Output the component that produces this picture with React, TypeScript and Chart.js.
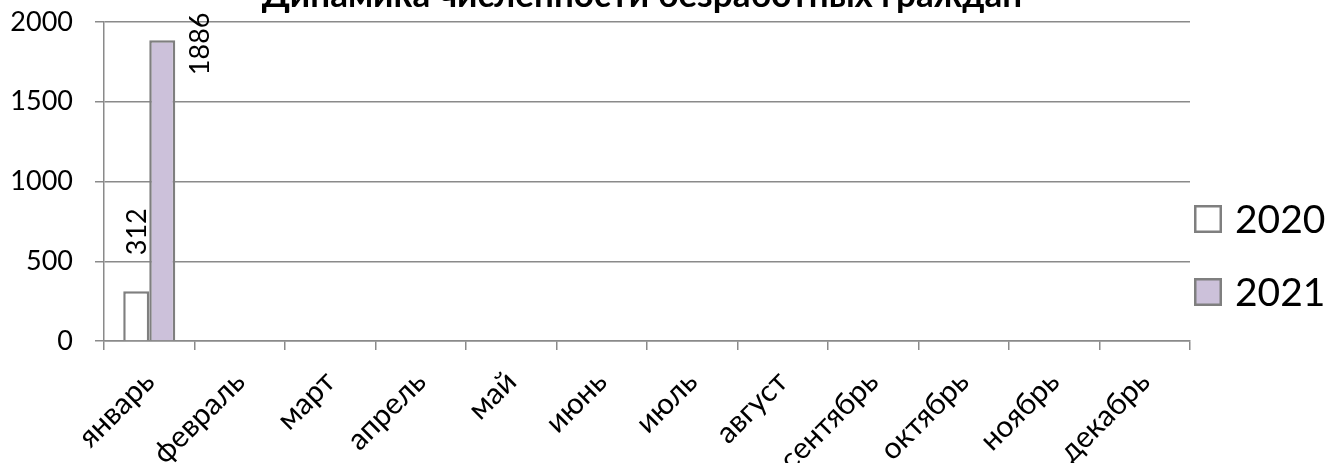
import React, { useEffect, useRef } from "react";
import { Chart, registerables } from "chart.js";

Chart.register(...registerables);

const TITLE = "Динамика численности безработных граждан";
const MONTHS = [
  "январь", "февраль", "март", "апрель", "май", "июнь",
  "июль", "август", "сентябрь", "октябрь", "ноябрь", "декабрь",
];
const SERIES_NAMES = ["2020", "2021"];
const VALUES_2020: (number | null)[] = [312, null, null, null, null, null, null, null, null, null, null, null];
const VALUES_2021: (number | null)[] = [1886, null, null, null, null, null, null, null, null, null, null, null];
const Y_TICKS = [0, 500, 1000, 1500, 2000];

const FONT = "Lato, 'Open Sans', sans-serif";
const GRID = "#8a8a8a";
const BORDER = "#7f7f7f";
const FILLS = ["#ffffff", "#ccc1da"];
// per-series offset of the value label relative to its bar top
const LABEL_OFFSETS = [
  { dx: 1, dy: -36 },
  { dx: 38, dy: 35 },
];

const valueLabels = {
  id: "valueLabels",
  afterDatasetsDraw(chart: any) {
    const ctx = chart.ctx;
    chart.data.datasets.forEach((ds: any, di: number) => {
      const meta = chart.getDatasetMeta(di);
      meta.data.forEach((el: any, i: number) => {
        const v = ds.data[i];
        if (v == null) return;
        const o = LABEL_OFFSETS[di];
        ctx.save();
        ctx.translate(el.x + o.dx, el.y + o.dy);
        ctx.rotate(-Math.PI / 2);
        ctx.font = `27px ${FONT}`;
        ctx.fillStyle = "#000";
        ctx.textAlign = "left";
        ctx.textBaseline = "middle";
        ctx.fillText(String(v), 0, 0);
        ctx.restore();
      });
    });
  },
};

const titleAndLegend = {
  id: "titleAndLegend",
  afterDraw(chart: any) {
    const ctx = chart.ctx;
    const area = chart.chartArea;
    ctx.save();
    // title (mostly above the canvas top, as in the reference)
    ctx.font = `bold 35px ${FONT}`;
    ctx.fillStyle = "#000";
    ctx.textAlign = "center";
    ctx.textBaseline = "alphabetic";
    ctx.fillText(TITLE, 642, area.top - 15);

    // legend
    const box = 28;
    const x0 = area.right + 4;
    const yc0 = 219;
    const step = 73;
    chart.data.datasets.forEach((ds: any, i: number) => {
      const yc = yc0 + i * step;
      ctx.fillStyle = ds.backgroundColor;
      ctx.fillRect(x0, yc - box / 2, box, box);
      ctx.strokeStyle = ds.borderColor;
      ctx.lineWidth = 2.5;
      ctx.strokeRect(x0 + 1.25, yc - box / 2 + 1.25, box - 2.5, box - 2.5);
      ctx.font = `39px ${FONT}`;
      ctx.fillStyle = "#000";
      ctx.textAlign = "left";
      ctx.textBaseline = "middle";
      ctx.fillText(ds.label, x0 + box + 13, yc + 1);
    });
    ctx.restore();
  },
};

export default function App() {
  const ref = useRef<HTMLCanvasElement | null>(null);

  useEffect(() => {
    if (!ref.current) return;
    const chart = new Chart(ref.current, {
      type: "bar",
      data: {
        labels: MONTHS,
        datasets: [
          {
            label: SERIES_NAMES[0],
            data: VALUES_2020,
            backgroundColor: FILLS[0],
            borderColor: BORDER,
            borderWidth: 2.5,
            categoryPercentage: 0.575,
            barPercentage: 1,
          },
          {
            label: SERIES_NAMES[1],
            data: VALUES_2021,
            backgroundColor: FILLS[1],
            borderColor: BORDER,
            borderWidth: 2.5,
            categoryPercentage: 0.575,
            barPercentage: 1,
          },
        ] as any,
      },
      options: {
        animation: false,
        responsive: false,
        devicePixelRatio: 1,
        layout: { padding: { left: 0, top: 22, right: 143, bottom: 0 } },
        plugins: {
          legend: { display: false },
          title: { display: false },
          tooltip: { enabled: false },
        },
        scales: {
          x: {
            afterFit: (s: any) => { s.height = 122; s.paddingTop = 0; s.paddingBottom = 0; },
            grid: {
              offset: true,
              drawOnChartArea: false,
              drawTicks: true,
              tickLength: 9,
              color: GRID,
              lineWidth: 1.5,
            },
            border: { color: GRID, width: 1.5 },
            ticks: {
              minRotation: 45,
              maxRotation: 45,
              autoSkip: false,
              padding: 14,
              color: "#000",
              font: { family: FONT, size: 30 },
            },
          },
          y: {
            min: Y_TICKS[0],
            max: Y_TICKS[Y_TICKS.length - 1],
            afterFit: (s: any) => { s.width = 104; s.paddingTop = 0; s.paddingBottom = 0; },
            afterBuildTicks: (s: any) => { s.ticks = Y_TICKS.map((v) => ({ value: v })); },
            grid: {
              color: GRID,
              lineWidth: 1.5,
              drawTicks: true,
              tickLength: 9,
            },
            border: { color: GRID, width: 1.5 },
            ticks: {
              padding: 22,
              color: "#000",
              font: { family: FONT, size: 27 },
              callback: (v: any) => String(v),
            },
          },
        },
      },
      plugins: [valueLabels, titleAndLegend],
    } as any);
    return () => chart.destroy();
  }, []);

  return (
    <div style={{ position: "fixed", left: 0, top: 0, width: 1333, height: 463, background: "#fff" }}>
      <canvas ref={ref} width={1333} height={463} style={{ display: "block" }} />
    </div>
  );
}
